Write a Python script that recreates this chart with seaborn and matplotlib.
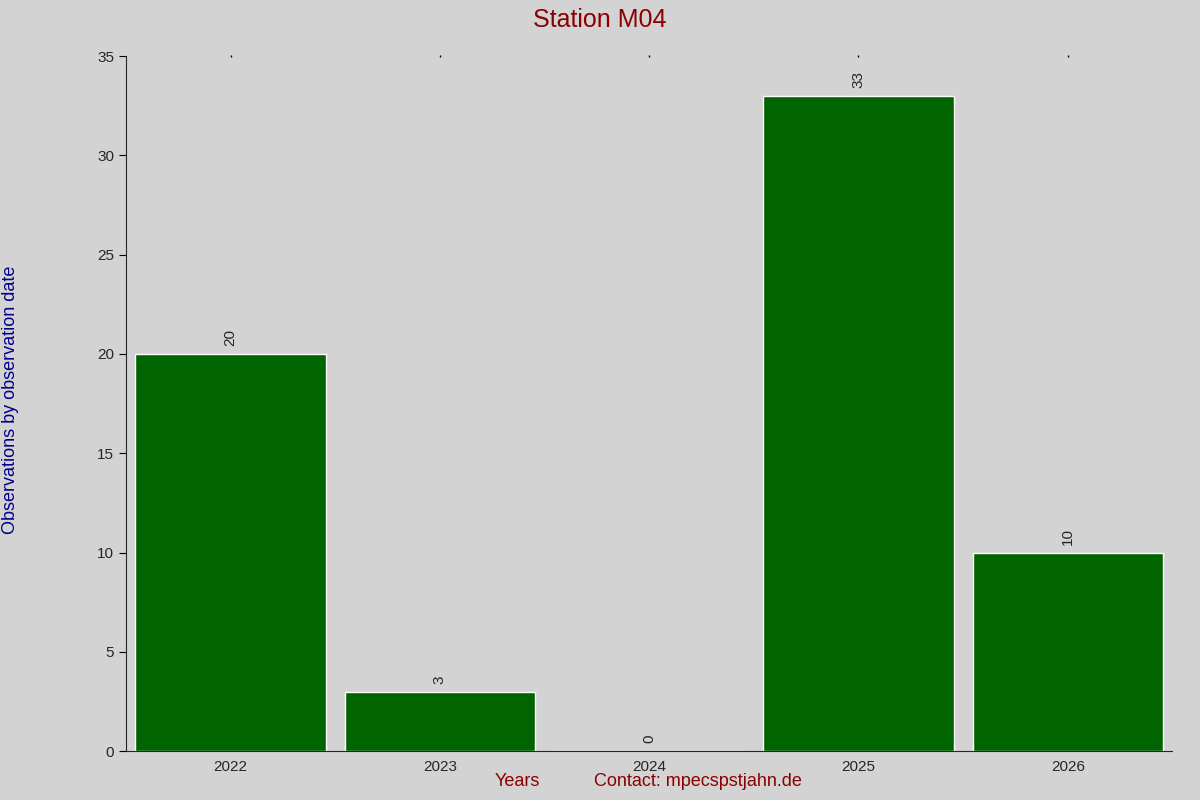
import matplotlib
matplotlib.use("Agg")
import matplotlib.pyplot as plt
import seaborn as sns

years = ["2022", "2023", "2024", "2025", "2026"]
counts = [20, 3, 0, 33, 10]

sns.set_style("ticks")
plt.rcParams["font.family"] = ["Liberation Sans", "DejaVu Sans"]

fig = plt.figure(figsize=(12, 8), dpi=100, facecolor="#d3d3d3")
ax = fig.add_axes([0.105, 0.061, 0.872, 0.869])
ax.set_facecolor("#d3d3d3")

sns.barplot(x=years, y=counts, color="#006400", saturation=1, width=0.91, ax=ax)
for i, v in enumerate(counts):
    ax.text(i, v + 0.4, str(v), rotation=90, ha="center", va="bottom", fontsize=11)

ax.set_xlim(-0.5, 4.5)
ax.set_ylim(0, 35)
ax.set_yticks(range(0, 36, 5))
ax.tick_params(axis="both", labelsize=11, length=5, color="black")
ax.tick_params(axis="x", length=0, pad=6)
for i in range(len(years)):
    ax.plot(i, 35, marker="|", color="black", markersize=1.5, clip_on=False)
ax.spines["top"].set_visible(False)
ax.spines["right"].set_visible(False)

fig.suptitle("Station M04", color="#8b0000", fontsize=18, y=0.99)
ax.set_xlabel("")
fig.text(0.431, 0.018, "Years", color="#8b0000", fontsize=13, ha="center")
fig.text(0.582, 0.018, "Contact: mpecspstjahn.de", color="#8b0000", fontsize=13, ha="center")
fig.text(0.009, 0.5, "Observations by observation date", color="#00008b", fontsize=13,
         rotation=90, va="center", ha="center")

fig.savefig("out.png", dpi=100, facecolor=fig.get_facecolor())
